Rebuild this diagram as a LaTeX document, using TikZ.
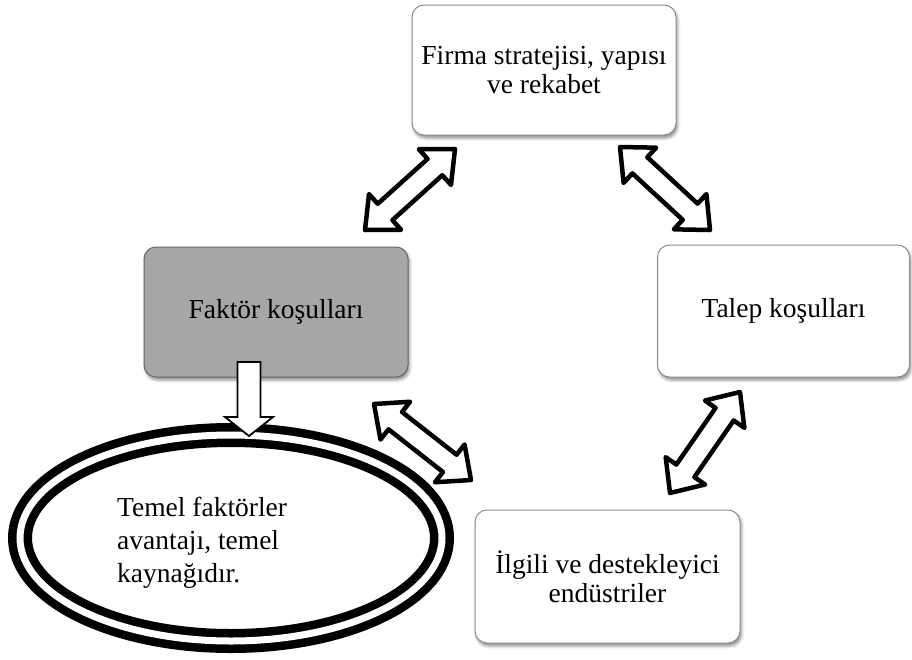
\documentclass[tikz,border=0pt]{standalone}
\usepackage{fontspec}
\setmainfont{Liberation Serif}
\usetikzlibrary{calc,shapes.geometric,shadows.blur}

% two-headed block arrow between two named points
\newcommand{\twowayarrow}[2]{%
  \draw[blockarrow] (#1)
    -- ($(#1)!36.12pt!41.63:(#2)$)
    -- ($(#1)!29.15pt!22.17:(#2)$)
    -- ($(#2)!29.15pt!-22.17:(#1)$)
    -- ($(#2)!36.12pt!-41.63:(#1)$)
    -- (#2)
    -- ($(#2)!36.12pt!41.63:(#1)$)
    -- ($(#2)!29.15pt!22.17:(#1)$)
    -- ($(#1)!29.15pt!-22.17:(#2)$)
    -- ($(#1)!36.12pt!-41.63:(#2)$)
    -- cycle;}

\tikzset{
  panel/.style={draw=black!45, line width=1pt, rounded corners=12pt,
    fill=white, align=center, inner sep=0pt,
    font=\fontsize{27.5}{29}\selectfont,
    blur shadow={shadow xshift=1.5pt, shadow yshift=-3pt,
      shadow blur radius=3pt, shadow opacity=45}},
  keypanel/.style={panel, fill=black!35, draw=black!60},
  blockarrow/.style={draw=black, fill=white, line width=4.5pt, line join=round},
  downarrow/.style={draw=black, fill=white, line width=1.8pt, line join=miter},
  ring/.style={ellipse, draw=black, line width=8.5pt, double=white,
    double distance=7pt, inner sep=0pt},
  ringtext/.style={align=left, inner sep=0pt, font=\fontsize{27.5}{33}\selectfont}
}

\begin{document}
\begin{tikzpicture}[x=1pt, y=-1pt]
\useasboundingbox (0,0) rectangle (912,659);

% the four corners of the diamond
\node[panel, minimum width=264pt, minimum height=130pt] (firm) at (544,70)
  {Firma stratejisi, yapısı\\ve rekabet};
\node[keypanel, minimum width=264pt, minimum height=130pt] (factor) at (276,312)
  {Faktör koşulları};
\node[panel, minimum width=252pt, minimum height=132pt] (demand) at (783.5,311)
  {Talep koşulları};
\node[panel, minimum width=265pt, minimum height=133pt] (related) at (607.5,576.5)
  {İlgili ve destekleyici\\endüstriler};

% triple-ring ellipse with its note
\node[ring, minimum width=422pt, minimum height=206pt] (base) at (231,538) {};
\node[ringtext, anchor=west] (basetext) at (117,543)
  {Temel faktörler\\avantajı, temel\\kaynağıdır.};

% arrow from the factor box down into the ellipse
\coordinate (dtop) at (249,362);
\coordinate (dtip) at (249,436);
\draw[downarrow] ($(dtop)+(-11.5,0)$) -- ($(dtip)+(-11.5,-19)$)
  -- ($(dtip)+(-24,-19)$) -- (dtip) -- ($(dtip)+(24,-19)$)
  -- ($(dtip)+(11.5,-19)$) -- ($(dtop)+(11.5,0)$) -- cycle;

% ends of the two-headed arrows
\coordinate (fa1) at (365,230);
\coordinate (fa2) at (455,149);
\coordinate (fd1) at (620,147);
\coordinate (fd2) at (710,230);
\coordinate (fr1) at (374,404);
\coordinate (fr2) at (471,480);
\coordinate (dr1) at (740,392);
\coordinate (dr2) at (670,493);

\twowayarrow{fa1}{fa2}
\twowayarrow{fd1}{fd2}
\twowayarrow{fr1}{fr2}
\twowayarrow{dr1}{dr2}

\end{tikzpicture}
\end{document}
